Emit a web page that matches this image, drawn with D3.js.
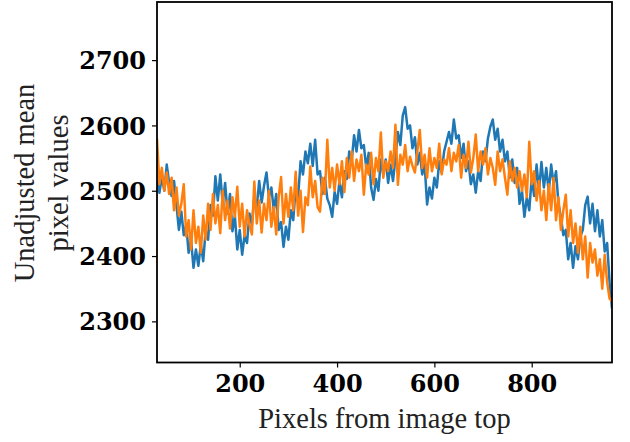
<!DOCTYPE html>
<html>
<head>
<meta charset="utf-8">
<script src="https://cdn.jsdelivr.net/npm/d3@7"></script>
<style>
  html, body { margin: 0; padding: 0; background: #fff; }
  svg { display: block; }
</style>
</head>
<body>
<svg id="chart" width="630" height="442"></svg>
<script>
// Row positions (pixels from image top), sampled every 5 rows
const rowStart = 30, rowEnd = 965, rowStep = 5;

// Mean pixel value per row, first image (blue)
const seriesA = [
  2515, 2497, 2522, 2500, 2540, 2512, 2492, 2515, 2478, 2440,
  2468, 2432, 2448, 2405, 2425, 2382, 2410, 2385, 2418, 2392,
  2440, 2425, 2478, 2462, 2522, 2485, 2525, 2480, 2512, 2465,
  2495, 2438, 2462, 2410, 2440, 2402, 2432, 2420, 2465, 2448,
  2490, 2475, 2515, 2482, 2508, 2528, 2490, 2505, 2470, 2495,
  2440, 2452, 2414, 2445, 2425, 2470, 2455, 2505, 2490, 2545,
  2525, 2560, 2542, 2572, 2538, 2578, 2525, 2530, 2495, 2520,
  2488, 2478, 2460, 2498, 2480, 2515, 2490, 2530, 2518, 2560,
  2545, 2585, 2560, 2593, 2565, 2570, 2535, 2558, 2505, 2486,
  2518, 2500, 2548, 2525, 2548, 2512, 2540, 2515, 2550, 2590,
  2570, 2615, 2628, 2595, 2600, 2565, 2582, 2540, 2558, 2525,
  2540, 2479, 2505, 2488, 2520, 2505, 2545, 2528, 2560, 2575,
  2590, 2572, 2609, 2580, 2585, 2550, 2572, 2530, 2545, 2510,
  2525, 2497, 2530, 2515, 2560, 2545, 2580, 2598, 2609, 2578,
  2595, 2560, 2578, 2545, 2560, 2520, 2548, 2512, 2535, 2480,
  2500, 2460, 2490, 2470, 2520, 2492, 2540, 2500, 2544, 2505,
  2535, 2498, 2540, 2510, 2530, 2480, 2460, 2432, 2440, 2395,
  2420, 2382, 2415, 2395, 2430, 2440, 2478, 2491, 2450, 2480,
  2438, 2470, 2430, 2455, 2407, 2420, 2360, 2320
];

// Mean pixel value per row, second image (orange)
const seriesB = [
  2580, 2510, 2535, 2500, 2528, 2495, 2520, 2470, 2505, 2462,
  2480, 2510, 2430, 2455, 2410, 2470, 2420, 2445, 2405, 2462,
  2425, 2480, 2440, 2495, 2450, 2478, 2435, 2500, 2455, 2485,
  2442, 2490, 2460, 2506, 2445, 2480, 2430, 2470, 2448, 2433,
  2514, 2450, 2485, 2436, 2480, 2455, 2500, 2445, 2475, 2433,
  2490, 2521, 2450, 2495, 2460, 2505, 2470, 2529, 2462, 2500,
  2437, 2490, 2478, 2537, 2490, 2515, 2475, 2468, 2520, 2495,
  2578, 2505, 2535, 2500, 2540, 2510, 2545, 2498, 2550, 2520,
  2560, 2515, 2548, 2530, 2555, 2494, 2540, 2525, 2558, 2510,
  2550, 2530, 2589, 2520, 2545, 2530, 2560, 2535, 2601, 2509,
  2555, 2540, 2570, 2530, 2552, 2538, 2528, 2560, 2593, 2535,
  2555, 2520, 2565, 2530, 2550, 2535, 2572, 2525, 2548, 2540,
  2565, 2530, 2558, 2545, 2570, 2520, 2555, 2535, 2575, 2528,
  2550, 2586, 2530, 2560, 2540, 2565, 2525, 2550, 2535, 2509,
  2560, 2530, 2548, 2520, 2494, 2545, 2515, 2535, 2505, 2530,
  2500, 2525, 2490, 2575, 2510, 2530, 2485, 2515, 2470, 2500,
  2455, 2510, 2470, 2520, 2455, 2490, 2440, 2470, 2494, 2430,
  2470, 2420, 2450, 2405, 2445, 2395, 2430, 2367, 2420, 2390,
  2410, 2370, 2395, 2350, 2402, 2360, 2335, 2330
];

const xTicks = [200, 400, 600, 800];
const yTicks = [2300, 2400, 2500, 2600, 2700];
const colors = ["#1f77b4", "#ff7f0e"];

const rows = d3.range(rowStart, rowEnd + 1, rowStep);

const plot = { left: 157, right: 612, top: 2, bottom: 362.5 };
const svg = d3.select("#chart");

const x = d3.scaleLinear().domain([rowStart, rowEnd]).range([plot.left, plot.right]);
const y = d3.scaleLinear().domain([2237, 2789]).range([plot.bottom, plot.top]);

svg.append("defs").append("clipPath").attr("id", "clip")
  .append("rect")
  .attr("x", plot.left).attr("y", plot.top)
  .attr("width", plot.right - plot.left).attr("height", plot.bottom - plot.top);

const line = d3.line()
  .x(d => x(d[0]))
  .y(d => y(d[1]));

const lines = svg.append("g").attr("clip-path", "url(#clip)");
[seriesA, seriesB].forEach((vals, i) => {
  lines.append("path")
    .datum(rows.map((r, k) => [r, vals[k]]))
    .attr("fill", "none")
    .attr("stroke", colors[i])
    .attr("stroke-width", 2.5)
    .attr("stroke-linejoin", "round")
    .attr("d", line);
});

// Axes
const tickFont = "'DejaVu Serif', serif";
const xAxis = svg.append("g")
  .attr("transform", `translate(0,${plot.bottom})`)
  .call(d3.axisBottom(x).tickValues(xTicks).tickSize(5).tickPadding(7).tickFormat(d3.format("d")));
const yAxis = svg.append("g")
  .attr("transform", `translate(${plot.left},0)`)
  .call(d3.axisLeft(y).tickValues(yTicks).tickSize(5).tickPadding(6).tickFormat(d3.format("d")));

[xAxis, yAxis].forEach(g => {
  g.select(".domain").remove();
  g.selectAll(".tick line").attr("stroke", "#000").attr("stroke-width", 1.2);
  g.selectAll(".tick text")
    .attr("fill", "#000")
    .style("font-family", tickFont)
    .style("font-weight", "bold")
    .style("font-size", "24px");
});
yAxis.selectAll(".tick text").attr("dy", "0.36em");

// Frame
svg.append("rect")
  .attr("x", plot.left).attr("y", plot.top)
  .attr("width", plot.right - plot.left).attr("height", plot.bottom - plot.top)
  .attr("fill", "none").attr("stroke", "#000").attr("stroke-width", 1.8);

// Axis titles
const labelFont = "'Liberation Serif', 'Times New Roman', serif";
svg.append("text")
  .attr("x", (plot.left + plot.right) / 2)
  .attr("y", 428)
  .attr("text-anchor", "middle")
  .style("font-family", labelFont)
  .style("font-size", "28.5px")
  .attr("fill", "#222")
  .text("Pixels from image top");

const yLabel = svg.append("text")
  .attr("transform", "translate(0,183) rotate(-90)")
  .attr("text-anchor", "middle")
  .style("font-family", labelFont)
  .style("font-size", "28.5px")
  .attr("fill", "#222");
yLabel.append("tspan").attr("x", 0).attr("y", 34).text("Unadjusted mean");
yLabel.append("tspan").attr("x", 0).attr("y", 68).text("pixel values");
</script>
</body>
</html>
